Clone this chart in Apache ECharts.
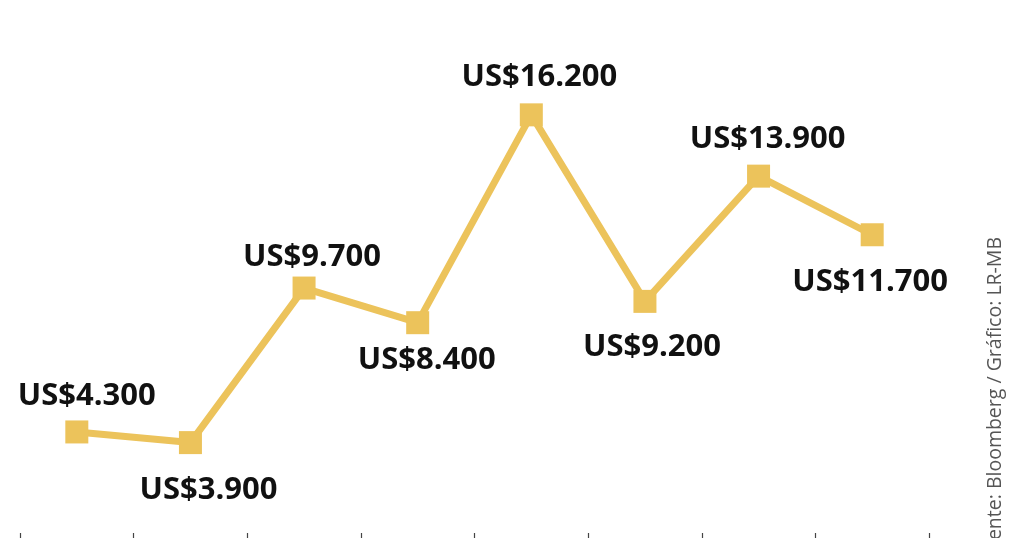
<!DOCTYPE html>
<html>
<head>
<meta charset="utf-8">
<script src="https://cdn.jsdelivr.net/npm/echarts@6/dist/echarts.min.js"></script>
<style>
html,body{margin:0;padding:0;background:#fff;}
#chart{width:1024px;height:538px;}
</style>
</head>
<body>
<div id="chart"></div>
<script>
// Data
var categories = ['P1','P2','P3','P4','P5','P6','P7','P8'];
var values = [4.3, 3.9, 9.7, 8.4, 16.2, 9.2, 13.9, 11.7];
var labelTexts = ['US$4.300','US$3.900','US$9.700','US$8.400','US$16.200','US$9.200','US$13.900','US$11.700'];
var sourceText = 'Fuente: Bloomberg / Gráfico: LR-MB';

// Label placement (style, not data)
var labelOffsets = [[10,-36],[18,48],[8,-31],[9,37],[8,-38],[7,46],[9,-37],[-2,47]];

var seriesData = values.map(function(v,i){
  return {
    value: v,
    label: { offset: labelOffsets[i], formatter: labelTexts[i] }
  };
});

var chart = echarts.init(document.getElementById('chart'), null, {renderer:'canvas'});
chart.setOption({
  backgroundColor: '#ffffff',
  animation: false,
  grid: { left: 20, right: 95, top: 0, bottom: 0, containLabel: false },
  xAxis: {
    type: 'category',
    data: categories,
    boundaryGap: true,
    axisLine: { show: false },
    axisTick: { show: true, inside: true, length: 5, lineStyle: { color: '#444', width: 1.2 } },
    axisLabel: { show: false },
    splitLine: { show: false }
  },
  yAxis: {
    type: 'value',
    min: 0.32,
    max: 20.51,
    show: false,
    splitLine: { show: false }
  },
  series: [{
    type: 'line',
    data: seriesData,
    symbol: 'rect',
    symbolSize: 23,
    itemStyle: { color: '#ECC35B' },
    lineStyle: { color: '#ECC35B', width: 7 },
    label: {
      show: true,
      position: 'inside',
      color: '#111',
      fontFamily: 'Open Sans',
      fontWeight: 'bold',
      fontSize: 31
    },
    z: 2
  }],
  graphic: [{
    type: 'text',
    x: 995,
    y: 237,
    rotation: Math.PI / 2,
    style: {
      text: sourceText,
      fontFamily: 'Open Sans',
      fontSize: 19.5,
      fill: '#555',
      align: 'right',
      verticalAlign: 'middle'
    }
  }]
});
</script>
</body>
</html>
